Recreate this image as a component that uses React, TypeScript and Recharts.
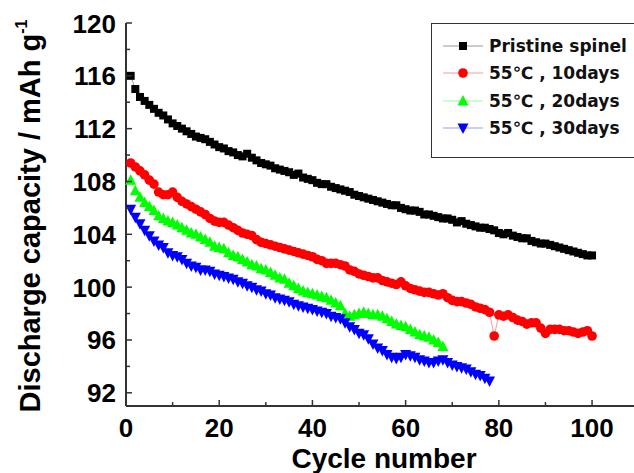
import React from 'react';
import { LineChart, Line, XAxis, YAxis, Label } from 'recharts';

const cycles = Array.from({ length: 100 }, (_, i) => i + 1);

const pristine = [
  116.0, 115.0, 114.4, 114.1, 113.8, 113.5, 113.2, 113.0, 112.7, 112.4,
  112.2, 112.0, 111.8, 111.6, 111.4, 111.3, 111.2, 111.0, 110.8, 110.6,
  110.5, 110.3, 110.2, 110.0, 109.9, 110.1, 109.8, 109.6, 109.4, 109.3,
  109.2, 109.0, 108.9, 108.8, 108.7, 108.5, 108.6, 108.3, 108.2, 108.1,
  107.9, 107.8, 107.8, 107.6, 107.5, 107.4, 107.3, 107.2, 107.0, 106.9,
  106.8, 106.7, 106.6, 106.5, 106.4, 106.3, 106.2, 106.2, 106.0, 105.9,
  105.8, 105.8, 105.7, 105.5, 105.5, 105.4, 105.3, 105.2, 105.2, 105.1,
  104.9, 105.0, 104.8, 104.7, 104.6, 104.5, 104.5, 104.4, 104.3, 104.1,
  104.0, 104.1, 103.9, 103.8, 103.7, 103.7, 103.5, 103.4, 103.3, 103.3,
  103.2, 103.1, 103.0, 102.9, 102.8, 102.7, 102.6, 102.5, 102.4, 102.4,
];

const days10 = [
  109.4, 109.1, 108.8, 108.5, 108.1, 107.8, 107.2, 107.0, 107.0, 107.2,
  106.8, 106.5, 106.3, 106.1, 105.9, 105.7, 105.5, 105.2, 105.0, 104.9,
  104.9, 104.7, 104.5, 104.3, 104.1, 104.0, 103.9, 103.6, 103.4, 103.3,
  103.2, 103.1, 103.0, 102.9, 102.8, 102.7, 102.6, 102.5, 102.4, 102.3,
  102.1, 102.0, 101.8, 101.8, 101.8, 101.7, 101.6, 101.3, 101.2, 101.0,
  100.9, 100.8, 100.7, 100.7, 100.5, 100.4, 100.3, 100.2, 100.4, 100.1,
  99.9, 99.8, 99.7, 99.6, 99.6, 99.5, 99.4, 99.5, 99.2, 99.0,
  98.9, 98.9, 98.8, 98.7, 98.5, 98.4, 98.3, 98.1, 96.3, 97.9,
  97.8, 97.9, 97.7, 97.5, 97.4, 97.2, 97.3, 97.3, 96.9, 96.5,
  96.8, 96.8, 96.8, 96.7, 96.7, 96.6, 96.5, 96.6, 96.7, 96.3,
];

const days20 = [
  108.1, 107.3, 106.8, 106.4, 106.1, 105.8, 105.4, 105.2, 105.0, 104.9,
  104.7, 104.5, 104.3, 104.1, 104.0, 103.8, 103.6, 103.4, 103.1, 103.0,
  102.9, 102.6, 102.4, 102.3, 102.1, 101.9, 101.7, 101.6, 101.4, 101.3,
  101.1, 100.9, 100.7, 100.6, 100.3, 100.1, 99.9, 99.7, 99.6, 99.5,
  99.4, 99.3, 99.2, 99.0, 98.8, 98.6, 98.0, 97.8, 97.9, 98.0,
  98.1, 98.0, 97.9, 97.9, 97.8, 97.6, 97.4, 97.2, 97.1, 97.0,
  96.8, 96.6, 96.4, 96.3, 96.2, 96.0, 95.8, 95.5,
];

const days30 = [
  105.9, 105.3, 104.8, 104.3, 103.9, 103.5, 103.2, 103.0, 102.6, 102.4,
  102.3, 102.1, 101.8, 101.6, 101.5, 101.3, 101.3, 101.2, 101.0, 100.9,
  100.8, 100.7, 100.6, 100.4, 100.3, 100.1, 100.0, 99.8, 99.7, 99.5,
  99.4, 99.2, 99.1, 99.0, 98.9, 98.7, 98.6, 98.5, 98.4, 98.3,
  98.2, 98.1, 98.0, 97.8, 97.7, 97.6, 97.3, 97.0, 96.8, 96.5,
  96.4, 96.1, 95.7, 95.4, 95.2, 94.9, 94.7, 94.6, 94.7, 94.9,
  94.8, 94.7, 94.5, 94.4, 94.3, 94.3, 94.4, 94.5, 94.3, 94.1,
  94.0, 93.9, 93.8, 93.6, 93.4, 93.3, 93.1, 92.9,
];

const xTicks = [0, 10, 20, 30, 40, 50, 60, 70, 80, 90, 100];
const yTicks = [92, 94, 96, 98, 100, 102, 104, 106, 108, 110, 112, 114, 116, 118, 120];

const seriesNames = ['Pristine spinel', '55\u2103 , 10days', '55\u2103 , 20days', '55\u2103 , 30days'];

const data = cycles.map((c, i) => ({
  cycle: c,
  pristine: pristine[i],
  d10: days10[i],
  d20: days20[i],
  d30: days30[i],
}));

const W = 634;
const H = 473;
const LEFT = 126;
const TOP = 23;
const XAXIS_H = 67;
const AXIS_COLOR = '#333';
const FONT = '"Liberation Sans", Arial, sans-serif';

const Square = ({ cx, cy, fill }: any) => <rect x={cx - 4} y={cy - 4} width={8} height={8} fill={fill} />;
const Circle = ({ cx, cy, fill }: any) => <circle cx={cx} cy={cy} r={4.8} fill={fill} />;
const TriUp = ({ cx, cy, fill }: any) => (
  <polygon points={`${cx},${cy - 6} ${cx - 5.5},${cy + 4.5} ${cx + 5.5},${cy + 4.5}`} fill={fill} />
);
const TriDown = ({ cx, cy, fill }: any) => (
  <polygon points={`${cx},${cy + 6} ${cx - 5.5},${cy - 4.5} ${cx + 5.5},${cy - 4.5}`} fill={fill} />
);

const dotOf = (Shape: any, fill: string) => (p: any) =>
  p.cy == null ? <g key={p.index} /> : <Shape key={p.index} cx={p.cx} cy={p.cy} fill={fill} />;

const XTick = (props: any) => {
  const { x, payload } = props;
  const major = payload.value % 20 === 0;
  const y0 = H - XAXIS_H;
  return (
    <g>
      <line x1={x} x2={x} y1={y0} y2={y0 - (major ? 6 : 4)} stroke={AXIS_COLOR} strokeWidth={1.5} />
      {major && (
        <text x={x} y={y0 + 31} textAnchor="middle" fontSize={26} fontWeight="bold" fontFamily={FONT} fill="#000">
          {payload.value}
        </text>
      )}
    </g>
  );
};

const YTick = (props: any) => {
  const { y, payload } = props;
  const major = payload.value % 4 === 0;
  return (
    <g>
      <line x1={LEFT} x2={LEFT + (major ? 6 : 4)} y1={y} y2={y} stroke={AXIS_COLOR} strokeWidth={1.5} />
      {major && (
        <text x={LEFT - 10} y={y + 9.5} textAnchor="end" fontSize={26} fontWeight="bold" fontFamily={FONT} fill="#000">
          {payload.value}
        </text>
      )}
    </g>
  );
};

const legendItems = [
  { name: seriesNames[0], line: '#999999', fill: '#000000', Shape: Square },
  { name: seriesNames[1], line: '#ff9999', fill: '#ff0000', Shape: Circle },
  { name: seriesNames[2], line: '#99ff99', fill: '#00ff00', Shape: TriUp },
  { name: seriesNames[3], line: '#9999ff', fill: '#0000ff', Shape: TriDown },
];

const YTitle = () => (
  <text
    x={40}
    y={216}
    transform="rotate(-90, 40, 216)"
    textAnchor="middle"
    fontSize={29}
    fontWeight="bold"
    fontFamily={FONT}
    fill="#000"
  >
    Discharge capacity / mAh g
    <tspan fontSize={16} dy={-13}>-1</tspan>
  </text>
);

export default function App() {
  return (
    <div style={{ position: 'absolute', left: 0, top: 0, width: W, height: H, overflow: 'hidden', background: '#fff' }}>
      <LineChart width={W} height={H} data={data} margin={{ top: TOP, right: 0, left: 0, bottom: 0 }}>
        <XAxis
          dataKey="cycle"
          type="number"
          domain={[0, 109]}
          ticks={xTicks}
          interval={0}
          height={XAXIS_H}
          axisLine={{ stroke: AXIS_COLOR, strokeWidth: 2 }}
          tickLine={false}
          tick={<XTick />}
        >
          <Label
            value="Cycle number"
            position="insideBottom"
            offset={0}
            content={() => (
              <text x={384} y={468} textAnchor="middle" fontSize={28} fontWeight="bold" fontFamily={FONT} fill="#000">
                Cycle number
              </text>
            )}
          />
        </XAxis>
        <XAxis
          xAxisId="top"
          orientation="top"
          dataKey="cycle"
          type="number"
          domain={[0, 109]}
          height={0}
          tick={false}
          tickLine={false}
          axisLine={{ stroke: AXIS_COLOR, strokeWidth: 2 }}
        />
        <YAxis
          type="number"
          domain={[91, 120]}
          ticks={yTicks}
          interval={0}
          width={LEFT}
          axisLine={{ stroke: AXIS_COLOR, strokeWidth: 2 }}
          tickLine={false}
          tick={<YTick />}
        >
          <Label content={() => <YTitle />} />
        </YAxis>
        <Line dataKey="pristine" name={seriesNames[0]} stroke="#999999" strokeWidth={1} dot={dotOf(Square, '#000000')} isAnimationActive={false} />
        <Line dataKey="d10" name={seriesNames[1]} stroke="#ff9999" strokeWidth={1} dot={dotOf(Circle, '#ff0000')} isAnimationActive={false} />
        <Line dataKey="d20" name={seriesNames[2]} stroke="#99ff99" strokeWidth={1} dot={dotOf(TriUp, '#00ff00')} isAnimationActive={false} />
        <Line dataKey="d30" name={seriesNames[3]} stroke="#9999ff" strokeWidth={1} dot={dotOf(TriDown, '#0000ff')} isAnimationActive={false} />
      </LineChart>
      <div
        style={{
          position: 'absolute',
          left: 431,
          top: TOP,
          width: 220,
          height: 135,
          border: '1.5px solid #333',
          background: '#fff',
          boxSizing: 'border-box',
          paddingTop: 8,
          fontFamily: '"DejaVu Sans", sans-serif',
        }}
      >
        {legendItems.map((it) => (
          <div key={it.name} style={{ display: 'flex', alignItems: 'center', height: 27.5 }}>
            <svg width={48} height={20} style={{ marginLeft: 9 }}>
              <line x1={2} x2={42} y1={10} y2={10} stroke={it.line} strokeWidth={1} />
              <it.Shape cx={22} cy={10} fill={it.fill} />
            </svg>
            <span style={{ fontSize: 17, fontWeight: 'bold', color: '#111' }}>{it.name}</span>
          </div>
        ))}
      </div>
    </div>
  );
}
